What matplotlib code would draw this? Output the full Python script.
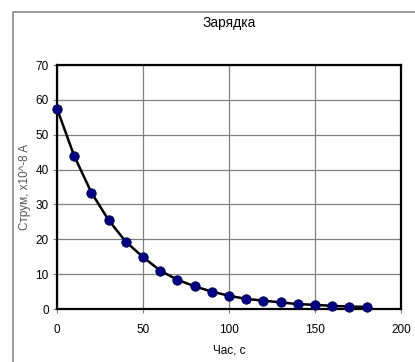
import matplotlib
matplotlib.use("Agg")
import matplotlib.pyplot as plt
from matplotlib.patches import Rectangle

# charging current vs time
time_s = [0, 10, 20, 30, 40, 50, 60, 70, 80, 90, 100, 110, 120, 130, 140, 150, 160, 170, 180]
current = [57.5, 43.9, 33.4, 25.5, 19.3, 14.9, 11.0, 8.4, 6.5, 5.0, 3.8, 2.9, 2.4, 1.9, 1.4, 1.2, 0.9, 0.7, 0.6]

x_ticks = [0, 50, 100, 150, 200]
y_ticks = [0, 10, 20, 30, 40, 50, 60, 70]

W, H = 415, 362
fig = plt.figure(figsize=(W / 100, H / 100), dpi=100)
plt.rcParams["font.family"] = ["Liberation Sans", "DejaVu Sans"]

# outer chart frame
fig.patches.append(Rectangle((13 / W, -0.05), 1.0, 1 - 12 / H + 0.05, transform=fig.transFigure,
                             fill=False, ec="#8a8a8a", lw=1.2))

ax = fig.add_axes([57 / W, 53 / H, (401 - 57) / W, (309 - 65) / H])
ax.plot(time_s, current, color="black", lw=1.8, zorder=3)
ax.scatter(time_s, current, s=46, color="#000080", edgecolors="#00004a", linewidths=0.6, zorder=4, clip_on=False)

ax.set_xlim(0, 200)
ax.set_ylim(0, 70)
ax.set_xticks(x_ticks)
ax.set_yticks(y_ticks)
ax.grid(color="#808080", lw=0.9)
ax.set_axisbelow(True)
for side in ax.spines.values():
    side.set_linewidth(1.6)
    side.set_color("black")
ax.tick_params(direction="out", length=3, width=0.8, colors="#808080", labelcolor="black", labelsize=8.5)
ax.tick_params(axis="x", pad=8)
ax.tick_params(axis="y", pad=3)

ax.set_title("Зарядка", fontsize=10, pad=27, x=0.5)
ax.set_xlabel("Час, с", fontsize=8.5, labelpad=6)
ax.set_ylabel("Струм, x10^-8 A", fontsize=8.5, labelpad=3, color="#555555")

fig.savefig("out.png", dpi=100)
